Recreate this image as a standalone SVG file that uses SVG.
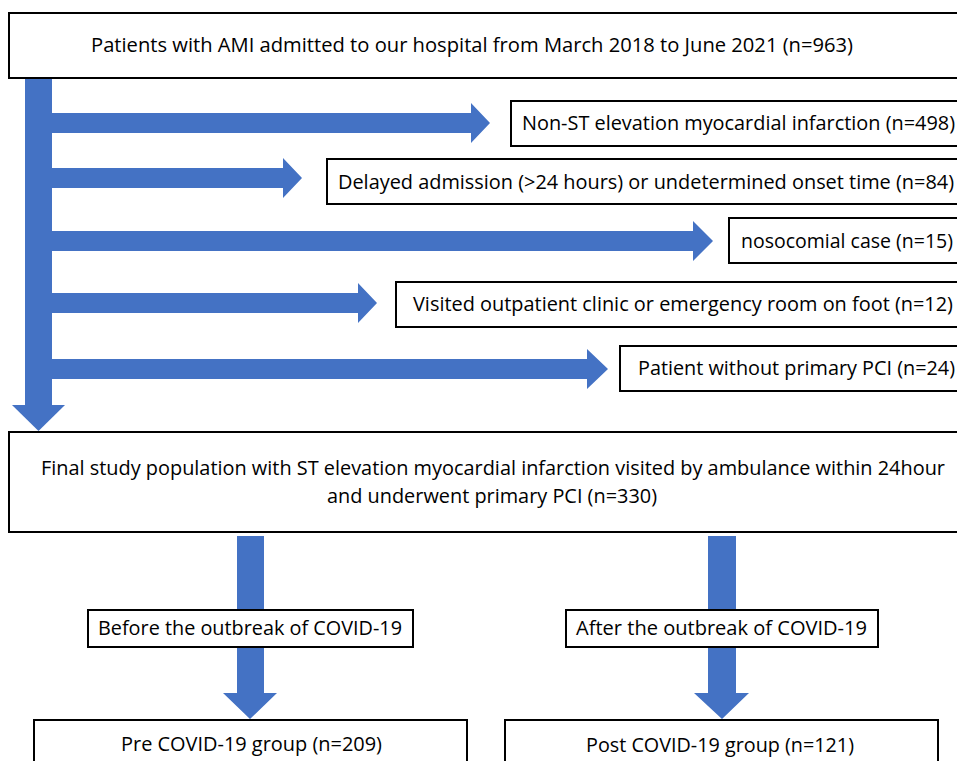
<svg xmlns="http://www.w3.org/2000/svg" width="957" height="761" viewBox="0 0 957 761">
<style>
.arrow{fill:#4472C4;}
.box{fill:#ffffff;stroke:#000000;stroke-width:2;}
.t{font-family:"Open Sans","Noto Sans","Liberation Sans",sans-serif;font-size:20.5px;fill:#000000;}
</style>
<rect x="0" y="0" width="957" height="761" fill="#ffffff"/>
<g id="connectors">
<rect class="arrow" x="25" y="78" width="27" height="327"/>
<polygon class="arrow" points="12,405 65,405 38.5,431"/>
<polygon class="arrow" points="52,113 471,113 471,103 490,123 471,143 471,133 52,133"/>
<polygon class="arrow" points="52,168 283,168 283,158 302,178 283,198 283,188 52,188"/>
<polygon class="arrow" points="52,231 693,231 693,221 713,241 693,261 693,251 52,251"/>
<polygon class="arrow" points="52,293 358,293 358,283 377,303 358,323 358,313 52,313"/>
<polygon class="arrow" points="52,359 587,359 587,349 608,369 587,389 587,379 52,379"/>
<polygon class="arrow" points="237,536 264,536 264,693 277,693 250,719 223,693 237,693"/>
<polygon class="arrow" points="708,536 736,536 736,693 749,693 722,719 694,693 708,693"/>
</g>
<g id="node-top">
<rect class="box" x="9" y="13" width="960" height="65"/>
<text class="t" x="91" y="52" textLength="762" lengthAdjust="spacingAndGlyphs">Patients with AMI admitted to our hospital from March 2018 to June 2021 (n=963)</text>
</g>
<g id="node-nstemi">
<rect class="box" x="511" y="101" width="460" height="45"/>
<text class="t" x="522" y="130" textLength="433" lengthAdjust="spacingAndGlyphs">Non-ST elevation myocardial infarction (n=498)</text>
</g>
<g id="node-delayed">
<rect class="box" x="327" y="159" width="640" height="45"/>
<text class="t" x="338" y="189" textLength="616" lengthAdjust="spacingAndGlyphs">Delayed admission (&gt;24 hours) or undetermined onset time (n=84)</text>
</g>
<g id="node-nosocomial">
<rect class="box" x="729" y="218" width="240" height="45"/>
<text class="t" x="741" y="248" textLength="212" lengthAdjust="spacingAndGlyphs">nosocomial case (n=15)</text>
</g>
<g id="node-visited">
<rect class="box" x="396" y="282" width="570" height="45"/>
<text class="t" x="413" y="311" textLength="540" lengthAdjust="spacingAndGlyphs">Visited outpatient clinic or emergency room on foot (n=12)</text>
</g>
<g id="node-nopci">
<rect class="box" x="620" y="346" width="350" height="45"/>
<text class="t" x="638" y="375" textLength="317" lengthAdjust="spacingAndGlyphs">Patient without primary PCI (n=24)</text>
</g>
<g id="node-final">
<rect class="box" x="9" y="432" width="960" height="100"/>
<text class="t" x="41" y="475" textLength="904" lengthAdjust="spacingAndGlyphs">Final study population with ST elevation myocardial infarction visited by ambulance within 24hour</text>
<text class="t" x="327" y="503" textLength="330" lengthAdjust="spacingAndGlyphs">and underwent primary PCI (n=330)</text>
</g>
<g id="node-before">
<rect class="box" x="88" y="610" width="325" height="37"/>
<text class="t" x="98" y="635" textLength="304" lengthAdjust="spacingAndGlyphs">Before the outbreak of COVID-19</text>
</g>
<g id="node-after">
<rect class="box" x="566" y="610" width="312" height="37"/>
<text class="t" x="576" y="635" textLength="291" lengthAdjust="spacingAndGlyphs">After the outbreak of COVID-19</text>
</g>
<g id="node-pre">
<rect class="box" x="34" y="720" width="433" height="60"/>
<text class="t" x="121" y="751" textLength="261" lengthAdjust="spacingAndGlyphs">Pre COVID-19 group (n=209)</text>
</g>
<g id="node-post">
<rect class="box" x="505" y="720" width="433" height="60"/>
<text class="t" x="586" y="752" textLength="268" lengthAdjust="spacingAndGlyphs">Post COVID-19 group (n=121)</text>
</g>
</svg>
